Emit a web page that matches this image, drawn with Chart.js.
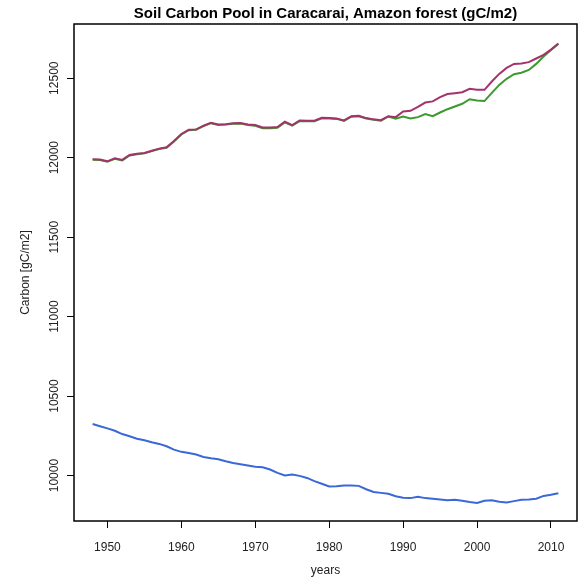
<!DOCTYPE html>
<html>
<head>
<meta charset="utf-8">
<script src="https://cdn.jsdelivr.net/npm/chart.js@4/dist/chart.umd.min.js"></script>
<style>
  html, body { margin: 0; padding: 0; background: #fff; }
  canvas { display: block; }
</style>
</head>
<body>
<canvas id="carbonChart" width="578" height="579"></canvas>
<script>
const years = [];
for (let y = 1948; y <= 2011; y++) years.push(y);

// soil carbon pool per run (gC/m2)
const carbonRunA = [
  11990, 11988, 11977, 11996, 11986, 12017, 12025, 12030, 12044, 12057,
  12065, 12105, 12149, 12176, 12178, 12201, 12220, 12209, 12211, 12216,
  12218, 12209, 12205, 12190, 12190, 12193, 12226, 12205, 12234, 12232,
  12232, 12251, 12249, 12247, 12234, 12261, 12264, 12249, 12241, 12236,
  12261, 12255, 12291, 12295, 12320, 12347, 12354, 12381, 12400, 12406,
  12412, 12433, 12427, 12427, 12479, 12527, 12565, 12590, 12592, 12601,
  12624, 12647, 12680, 12718
];
const carbonRunB = [
  11987, 11985, 11974, 11993, 11983, 12014, 12022, 12027, 12041, 12054,
  12062, 12102, 12146, 12173, 12175, 12198, 12217, 12206, 12208, 12213,
  12215, 12206, 12201, 12185, 12185, 12188, 12222, 12201, 12230, 12229,
  12229, 12248, 12246, 12244, 12231, 12258, 12261, 12246, 12238, 12233,
  12259, 12245, 12259, 12247, 12255, 12274, 12261, 12284, 12305, 12322,
  12339, 12368, 12360, 12356, 12408, 12458, 12496, 12525, 12534, 12552,
  12590, 12636, 12678, 12716
];
const carbonRunC = [
  10324, 10310, 10297, 10282, 10261, 10247, 10232, 10222, 10209, 10199,
  10184, 10163, 10149, 10142, 10132, 10117, 10109, 10103, 10090, 10079,
  10071, 10063, 10056, 10052, 10038, 10017, 10000, 10006, 9998, 9985,
  9965, 9948, 9931, 9933, 9937, 9937, 9935, 9914, 9897, 9891,
  9885, 9870, 9860, 9858, 9866, 9858, 9854, 9849, 9845, 9847,
  9841, 9833, 9828, 9841, 9845, 9835, 9831, 9839, 9847, 9849,
  9854, 9872, 9879, 9889
];

const xTicks = [1950, 1960, 1970, 1980, 1990, 2000, 2010];
const yTicks = [10000, 10500, 11000, 11500, 12000, 12500];
const chartTitle = 'Soil Carbon Pool in Caracarai, Amazon forest (gC/m2)';

const FONT = "'Liberation Sans', Arial, Helvetica, sans-serif";

const toPoints = arr => arr.map((v, i) => ({ x: years[i], y: v }));

// box around the plot region, title centred over it, vertical y tick labels
const frame = {
  id: 'frame',
  afterDraw(chart) {
    const { ctx, chartArea: a, scales } = chart;
    ctx.save();
    ctx.strokeStyle = '#000';
    ctx.lineWidth = 1.5;
    ctx.strokeRect(a.left, a.top, a.right - a.left, a.bottom - a.top);

    ctx.fillStyle = '#000';
    ctx.font = 'bold 15px ' + FONT;
    ctx.textAlign = 'center';
    ctx.textBaseline = 'middle';
    ctx.fillText(chartTitle, (a.left + a.right) / 2, 14);

    ctx.fillStyle = '#222';
    ctx.font = '12px ' + FONT;
    scales.y.ticks.forEach(t => {
      const py = scales.y.getPixelForValue(t.value);
      ctx.save();
      ctx.translate(a.left - 19, py);
      ctx.rotate(-Math.PI / 2);
      ctx.fillText(String(t.value), 0, 0);
      ctx.restore();
    });
    ctx.restore();
  }
};

new Chart(document.getElementById('carbonChart'), {
  type: 'line',
  data: {
    datasets: [
      {
        data: toPoints(carbonRunA),
        borderColor: '#a3336b',
        borderWidth: 2,
        order: 1
      },
      {
        data: toPoints(carbonRunB),
        borderColor: '#3a9a2e',
        borderWidth: 2,
        order: 2
      },
      {
        data: toPoints(carbonRunC),
        borderColor: '#3a68d8',
        borderWidth: 2,
        order: 3
      }
    ]
  },
  options: {
    responsive: false,
    animation: false,
    devicePixelRatio: 1,
    layout: { padding: { left: 0, right: 1, top: 24, bottom: 0 } },
    elements: { point: { radius: 0 }, line: { tension: 0 } },
    plugins: {
      legend: { display: false },
      tooltip: { enabled: false },
      title: { display: false }
    },
    scales: {
      x: {
        type: 'linear',
        min: 1945.48,
        max: 2013.52,
        afterBuildTicks: s => { s.ticks = xTicks.map(v => ({ value: v })); },
        afterFit: s => { s.height = 58; },
        grid: { drawOnChartArea: false, drawTicks: true, tickLength: 7, color: '#000', lineWidth: 1 },
        border: { display: false },
        ticks: {
          color: '#222',
          font: { family: FONT, size: 12 },
          padding: 12,
          maxRotation: 0,
          callback: v => String(v)
        },
        title: {
          display: true,
          text: 'years',
          color: '#222',
          font: { family: FONT, size: 12 },
          padding: { top: 0, bottom: 1 }
        }
      },
      y: {
        type: 'linear',
        min: 9714,
        max: 12841,
        afterBuildTicks: s => { s.ticks = yTicks.map(v => ({ value: v })); },
        afterFit: s => { s.width = 74; },
        grid: { drawOnChartArea: false, drawTicks: true, tickLength: 7, color: '#000', lineWidth: 1 },
        border: { display: false },
        ticks: { display: false },
        title: {
          display: true,
          text: 'Carbon [gC/m2]',
          color: '#222',
          font: { family: FONT, size: 12 },
          padding: { top: 18, bottom: 0 }
        }
      }
    }
  },
  plugins: [frame]
});
</script>
</body>
</html>
